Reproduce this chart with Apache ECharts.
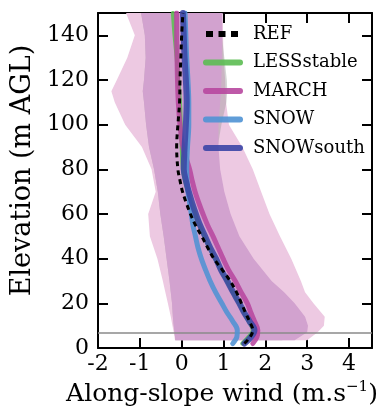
<!DOCTYPE html>
<html>
<head>
<meta charset="utf-8">
<script src="https://cdn.jsdelivr.net/npm/echarts@6/dist/echarts.min.js"></script>
<style>
  html, body { margin: 0; padding: 0; background: #fff; }
  #chart { width: 386px; height: 409px; }
</style>
</head>
<body>
<div id="chart"></div>
<script>
// Mean along-slope wind profiles (m/s) against height above ground (m)
const elevations = [2, 5, 8, 12, 16, 20, 25, 30, 35, 40, 45, 50, 55, 60, 65, 70, 75, 80, 90, 100, 110, 120, 130, 140, 150];

const windREF        = [1.50, 1.64, 1.70, 1.62, 1.52, 1.43, 1.31, 1.16, 0.97, 0.77, 0.62, 0.48, 0.33, 0.21, 0.11, 0.02, -0.04, -0.09, -0.12, -0.09, -0.05, -0.04, -0.02, 0.00, 0.03];
const windLESSstable = [1.45, 1.60, 1.70, 1.60, 1.48, 1.37, 1.22, 1.08, 0.93, 0.80, 0.66, 0.54, 0.42, 0.32, 0.23, 0.15, 0.08, 0.03, 0.00, -0.02, -0.04, -0.08, -0.12, -0.17, -0.21];
const windMARCH      = [1.70, 1.80, 1.82, 1.74, 1.65, 1.57, 1.42, 1.28, 1.12, 0.99, 0.87, 0.75, 0.62, 0.51, 0.41, 0.32, 0.25, 0.19, 0.03, -0.04, -0.08, -0.10, -0.11, -0.12, -0.12];
const windSNOW       = [1.22, 1.32, 1.33, 1.22, 1.08, 0.96, 0.81, 0.68, 0.57, 0.47, 0.39, 0.33, 0.27, 0.23, 0.19, 0.15, 0.13, 0.12, 0.14, 0.17, 0.17, 0.15, 0.12, 0.10, 0.08];
const windSNOWsouth  = [1.50, 1.66, 1.74, 1.62, 1.49, 1.38, 1.23, 1.09, 0.94, 0.82, 0.68, 0.56, 0.44, 0.34, 0.25, 0.17, 0.10, 0.05, 0.07, 0.10, 0.12, 0.10, 0.07, 0.05, 0.03];

// Spread envelopes (min/max and inter-quantile range) on their own height levels
const bandElevations = [3.5, 7, 10, 14, 20, 25, 30, 40, 50, 60, 70, 80, 90, 100, 110, 115, 120, 130, 140, 150];
const outerLow  = [-0.16, -0.19, -0.22, -0.26, -0.33, -0.39, -0.45, -0.58, -0.76, -0.80, -0.62, -0.72, -0.95, -1.35, -1.60, -1.68, -1.55, -1.30, -1.12, -1.33];
const outerHigh = [3.00, 3.25, 3.40, 3.42, 3.15, 2.95, 2.85, 2.62, 2.35, 2.10, 1.90, 1.70, 1.45, 1.13, 1.06, 1.05, 1.04, 1.00, 0.99, 0.98];
const innerLow  = [-0.15, -0.17, -0.19, -0.21, -0.23, -0.26, -0.29, -0.36, -0.43, -0.51, -0.57, -0.66, -0.78, -0.85, -0.90, -0.93, -0.90, -0.86, -0.88, -0.97];
const innerHigh = [2.70, 3.00, 3.02, 2.95, 2.70, 2.45, 2.15, 1.72, 1.38, 1.17, 1.02, 0.92, 0.88, 0.88, 0.92, 0.94, 0.95, 0.96, 0.97, 0.97];
const refHigh   = [2.40, 2.70, 2.80, 2.70, 2.50, 2.25, 2.00, 1.60, 1.30, 1.10, 0.97, 0.88, 0.86, 0.95, 1.07, 1.09, 1.08, 1.02, 0.96, 0.93];

const xTicks = [-2, -1, 0, 1, 2, 3, 4];
const yTicks = [0, 20, 40, 60, 80, 100, 120, 140];
const surfaceLayerTop = 7;

const FONT = '"DejaVu Serif", "Liberation Serif", serif';

const toPairs = (xs, ys) => xs.map((v, i) => [v, ys[i]]);

function bandSeries(name, low, high, fill, z) {
  return {
    type: 'custom',
    name: name,
    silent: true,
    z: z,
    clip: true,
    data: [[0, 0]],
    renderItem: function (params, api) {
      const pts = [];
      for (let i = 0; i < bandElevations.length; i++) pts.push(api.coord([low[i], bandElevations[i]]));
      for (let i = bandElevations.length - 1; i >= 0; i--) pts.push(api.coord([high[i], bandElevations[i]]));
      return { type: 'polygon', shape: { points: pts }, style: { fill: fill } };
    }
  };
}

function profile(name, xs, color, width, z, extra) {
  return Object.assign({
    type: 'line',
    name: name,
    data: toPairs(xs, elevations),
    showSymbol: false,
    symbol: 'none',
    smooth: 0.35,
    z: z,
    lineStyle: { color: color, width: width, opacity: 0.88, cap: 'round' },
    itemStyle: { color: color }
  }, extra || {});
}

const axisLineStyle = { color: '#000', width: 2 };
const tickStyle = { inside: true, length: 10, lineStyle: { color: '#000', width: 2 } };

const chart = echarts.init(document.getElementById('chart'), null, { renderer: 'canvas' });

chart.setOption({
  animation: false,
  backgroundColor: '#fff',
  grid: { left: 98, right: 14, top: 13, bottom: 61, containLabel: false, outerBoundsMode: 'none' },
  xAxis: [
    {
      type: 'value', position: 'bottom', min: -2, max: 4.55, interval: 1,
      axisLine: { show: true, onZero: false, lineStyle: axisLineStyle },
      axisTick: tickStyle,
      splitLine: { show: false },
      axisLabel: {
        color: '#000', fontFamily: FONT, fontSize: 22, margin: 5,
        formatter: v => (xTicks.indexOf(v) >= 0 ? String(v) : '')
      },
      name: 'Along-slope wind (m.s{sup|−1})',
      nameLocation: 'middle',
      nameGap: 30,
      nameTextStyle: {
        color: '#000', fontFamily: FONT, fontSize: 25, lineHeight: 30,
        padding: [0, 26, 0, 0],
        rich: { sup: { color: '#000', fontFamily: FONT, fontSize: 15, lineHeight: 15, verticalAlign: 'top' } }
      }
    },
    {
      type: 'value', position: 'top', min: -2, max: 4.55, interval: 1,
      axisLine: { show: true, onZero: false, lineStyle: axisLineStyle },
      axisTick: tickStyle,
      splitLine: { show: false },
      axisLabel: { show: false }
    }
  ],
  yAxis: [
    {
      type: 'value', position: 'left', min: 0, max: 150, interval: 20,
      axisLine: { show: true, onZero: false, lineStyle: axisLineStyle },
      axisTick: tickStyle,
      splitLine: { show: false },
      axisLabel: {
        color: '#000', fontFamily: FONT, fontSize: 22, margin: 9,
        formatter: v => (yTicks.indexOf(v) >= 0 ? String(v) : '')
      },
      name: 'Elevation (m AGL)',
      nameLocation: 'middle',
      nameGap: 60,
      nameTextStyle: { color: '#000', fontFamily: FONT, fontSize: 27, padding: [0, 0, 0, 20] }
    },
    {
      type: 'value', position: 'right', min: 0, max: 150, interval: 20,
      axisLine: { show: true, onZero: false, lineStyle: axisLineStyle },
      axisTick: tickStyle,
      splitLine: { show: false },
      axisLabel: { show: false }
    }
  ],
  legend: {
    orient: 'vertical',
    left: 198,
    top: 20,
    itemWidth: 34,
    itemHeight: 14,
    itemGap: 10.5,
    itemStyle: { opacity: 0 },
    textStyle: { color: '#000', fontFamily: FONT, fontSize: 18, padding: [0, 0, 0, 8] },
    data: [
      { name: 'REF', lineStyle: { color: '#000', width: 6, type: [7, 5.5], cap: 'butt', opacity: 1 } },
      { name: 'LESSstable', lineStyle: { width: 6, opacity: 0.9 } },
      { name: 'MARCH', lineStyle: { width: 6, opacity: 0.9 } },
      { name: 'SNOW', lineStyle: { width: 6, opacity: 0.9 } },
      { name: 'SNOWsouth', lineStyle: { width: 6, opacity: 0.9 } }
    ]
  },
  series: [
    bandSeries('spread', outerLow, outerHigh, '#edc9e2', 1),
    bandSeries('REF spread', innerLow, refHigh, 'rgba(150,150,150,0.4)', 2),
    bandSeries('quartiles', innerLow, innerHigh, '#d2a2cf', 3),
    profile('LESSstable', windLESSstable, '#5cbd52', 4, 10, {
      markLine: {
        silent: true, symbol: 'none', label: { show: false },
        lineStyle: { color: '#8a8a8a', width: 1.5, type: 'solid' },
        data: [{ yAxis: surfaceLayerTop }]
      }
    }),
    profile('MARCH', windMARCH, '#b7479f', 5, 11),
    profile('SNOW', windSNOW, '#4f92d4', 5, 12),
    profile('SNOWsouth', windSNOWsouth, '#3a45a6', 6, 13),
    profile('REF', windREF, '#000', 3, 14, { lineStyle: { color: '#000', width: 3, type: [5, 4], opacity: 1 } })
  ]
});
</script>
</body>
</html>
